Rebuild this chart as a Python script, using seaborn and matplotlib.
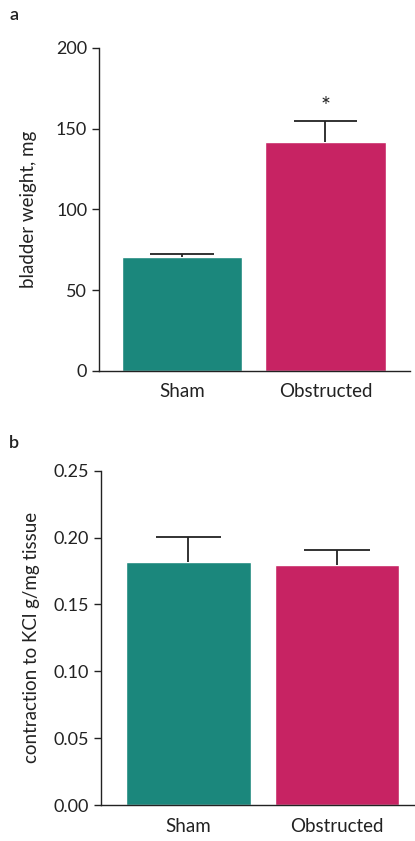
import numpy as np
import pandas as pd
import seaborn as sns
import matplotlib
matplotlib.use('Agg')
import matplotlib.pyplot as plt

sns.set_style('ticks')
plt.rcParams['font.family'] = ['Lato', 'DejaVu Sans']

# data
groups = ['Sham', 'Obstructed']
weight_mean = [70.6, 141.8]
weight_err = [1.6, 13.0]
kcl_mean = [0.182, 0.1796]
kcl_err = [0.0186, 0.011]

colors = ['#1b877c', '#c72363']

fig = plt.figure(figsize=(4.15, 8.41), dpi=100)
ax_a = fig.add_axes([0.2386, 0.5589, 0.7494, 0.3841])
ax_b = fig.add_axes([0.2434, 0.0428, 0.7566, 0.3975])


def draw_panel(ax, means, errs, ylabel, yticks, ylim, xlim, fmt, lpad):
    df = pd.DataFrame({'group': groups, 'value': means})
    sns.barplot(data=df, x='group', y='value', hue='group', palette=colors,
                width=0.84, errorbar=None, legend=False, ax=ax, saturation=1)
    # upper-only error bars with a cap at the top
    x = np.arange(len(means))
    tops = np.array(means) + np.array(errs)
    ax.vlines(x, means, tops, color='#222222', lw=1.3)
    ax.hlines(tops, x - 0.22, x + 0.22, color='#222222', lw=1.3)
    ax.set_xlim(xlim)
    ax.set_ylim(ylim)
    ax.set_yticks(yticks)
    ax.set_yticklabels([fmt.format(t) for t in yticks], fontsize=13, color='#222222')
    ax.set_xlabel('')
    ax.set_ylabel(ylabel, fontsize=13.5, color='#222222', labelpad=lpad)
    ax.tick_params(axis='x', length=0, labelsize=13.5, pad=9, colors='#222222')
    ax.tick_params(axis='y', length=5, width=1, colors='#222222')
    sns.despine(ax=ax)
    for s in ['left', 'bottom']:
        ax.spines[s].set_linewidth(1)
        ax.spines[s].set_color('#222222')


draw_panel(ax_a, weight_mean, weight_err, 'bladder weight, mg',
           [0, 50, 100, 150, 200], (0, 200), (-0.578, 1.589), '{:.0f}', 14)
ax_a.text(1, 164, '*', ha='center', va='center', fontsize=17, color='#222222')

draw_panel(ax_b, kcl_mean, kcl_err, 'contraction to KCl g/mg tissue',
           [0, 0.05, 0.10, 0.15, 0.20, 0.25], (0, 0.25), (-0.589, 1.525), '{:.2f}', 10)

fig.text(0.022, 0.982, 'a', fontsize=13, fontweight='semibold', color='#222222', va='center')
fig.text(0.022, 0.473, 'b', fontsize=13, fontweight='semibold', color='#222222', va='center')

fig.savefig('out.png', dpi=100)
